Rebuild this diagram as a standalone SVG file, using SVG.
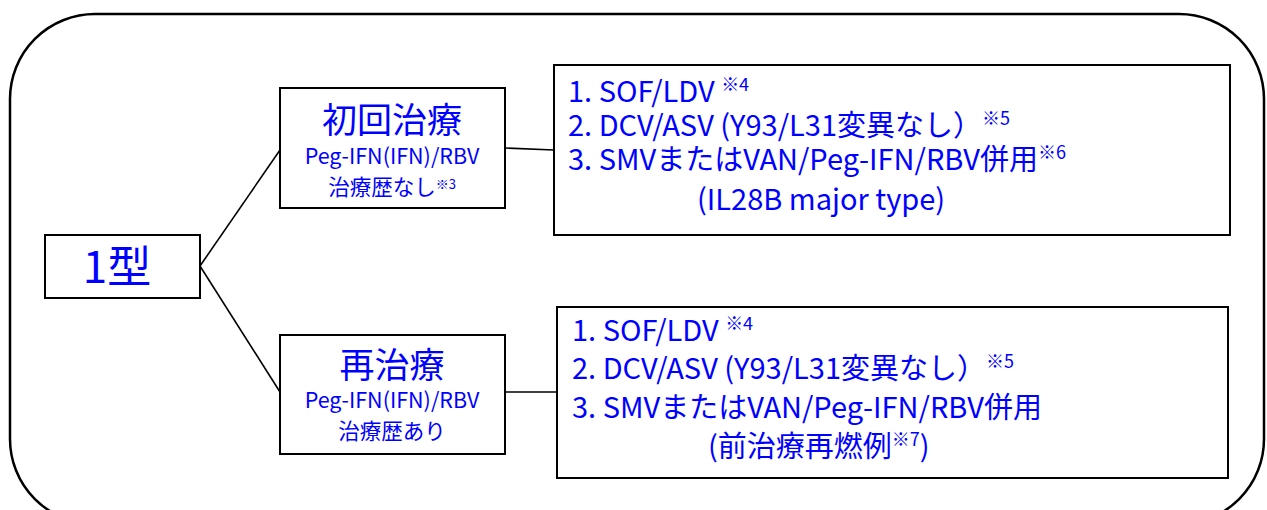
<svg xmlns="http://www.w3.org/2000/svg" width="1267" height="510" viewBox="0 0 1267 510">
<style>
.box{fill:#fff;stroke:#000;stroke-width:2}
.con{fill:none;stroke:#000;stroke-width:1.6}
text{font-family:"Noto Sans CJK JP","Noto Sans",sans-serif;fill:#0000ff}
.big{font-size:35px}
.mid{font-size:21.5px}
.lst{font-size:29px}
.sup{font-size:18px}
</style>
<rect x="10" y="14" width="1254" height="510" rx="85" ry="85" fill="#fff" stroke="#000" stroke-width="2.5"/>
<g id="connectors">
<line class="con" x1="200" y1="266" x2="280" y2="150"/>
<line class="con" x1="200" y1="266" x2="280" y2="392"/>
<line class="con" x1="505" y1="148" x2="554" y2="150"/>
<line class="con" x1="505" y1="392" x2="557" y2="392"/>
</g>
<g id="type1">
<rect class="box" x="45" y="235" width="155" height="63"/>
<text x="117" y="283" font-size="44" text-anchor="middle">1型</text>
</g>
<g id="first">
<rect class="box" x="280" y="88" width="225" height="120"/>
<text class="big" x="392" y="133" text-anchor="middle">初回治療</text>
<text class="mid" x="392" y="164" text-anchor="middle">Peg-IFN(IFN)/RBV</text>
<text class="mid" x="392" y="195" text-anchor="middle">治療歴なし<tspan font-size="13" dy="-6">※3</tspan></text>
</g>
<g id="retreat">
<rect class="box" x="280" y="335" width="225" height="119"/>
<text class="big" x="392" y="378" text-anchor="middle">再治療</text>
<text class="mid" x="392" y="408" text-anchor="middle">Peg-IFN(IFN)/RBV</text>
<text class="mid" x="392" y="439" text-anchor="middle">治療歴あり</text>
</g>
<g id="first-regimen">
<rect class="box" x="554" y="65" width="676" height="170"/>
<text class="lst" x="568" y="102">1. SOF/LDV <tspan class="sup" dy="-11">※4</tspan></text>
<text class="lst" x="568" y="136">2. DCV/ASV (Y93/L31変異なし）<tspan class="sup" dy="-11">※5</tspan></text>
<text class="lst" x="568" y="170">3. SMVまたはVAN/Peg-IFN/RBV併用<tspan class="sup" dy="-11">※6</tspan></text>
<text class="lst" x="697" y="210">(IL28B major type)</text>
</g>
<g id="retreat-regimen">
<rect class="box" x="557" y="307" width="671" height="171"/>
<text class="lst" x="572" y="341">1. SOF/LDV <tspan class="sup" dy="-11">※4</tspan></text>
<text class="lst" x="572" y="379">2. DCV/ASV (Y93/L31変異なし）<tspan class="sup" dy="-11">※5</tspan></text>
<text class="lst" x="572" y="418">3. SMVまたはVAN/Peg-IFN/RBV併用</text>
<text class="lst" x="708" y="457">(前治療再燃例<tspan class="sup" dy="-11">※7</tspan><tspan dy="11">)</tspan></text>
</g>
</svg>
